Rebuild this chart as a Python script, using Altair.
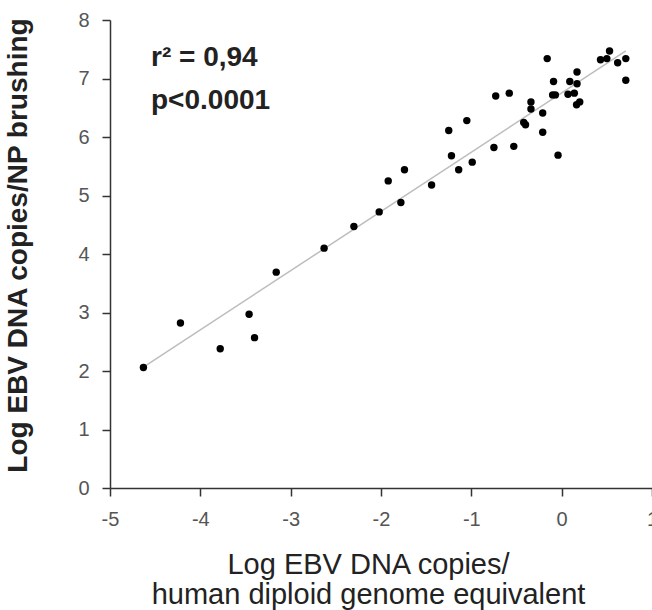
import altair as alt
import pandas as pd

# Log EBV DNA copies / human diploid genome equivalent
x_vals = [-4.63, -4.22, -3.78, -3.46, -3.40, -3.16, -2.63, -2.30, -2.02, -1.92,
          -1.78, -1.74, -1.44, -1.25, -1.22, -1.14, -1.05, -0.99, -0.75, -0.73,
          -0.58, -0.53, -0.42, -0.40, -0.34, -0.34, -0.21, -0.21, -0.16, -0.10,
          -0.07, -0.09, -0.04, 0.07, 0.09, 0.14, 0.17, 0.17, 0.165, 0.20,
          0.43, 0.50, 0.53, 0.62, 0.71, 0.71]
# Log EBV DNA copies / NP brushing
y_vals = [2.06, 2.82, 2.38, 2.97, 2.57, 3.69, 4.10, 4.47, 4.72, 5.25,
          4.88, 5.44, 5.18, 6.11, 5.68, 5.44, 6.28, 5.57, 5.82, 6.70,
          6.75, 5.84, 6.25, 6.21, 6.48, 6.60, 6.41, 6.08, 7.34, 6.72,
          6.72, 6.95, 5.69, 6.73, 6.95, 6.75, 7.11, 6.91, 6.55, 6.60,
          7.32, 7.34, 7.47, 7.27, 7.34, 6.97]

x_ticks = [-5, -4, -3, -2, -1, 0, 1]
y_ticks = [0, 1, 2, 3, 4, 5, 6, 7, 8]
x_title = ["Log EBV DNA copies/", "human diploid genome equivalent"]
y_title = "Log EBV DNA copies/NP brushing"
annot_text = "r\u00b2 = 0,94\np<0.0001"

df = pd.DataFrame({"x": x_vals, "y": y_vals})

FONT = "Liberation Sans"

x_enc = alt.X(
    "x:Q",
    scale=alt.Scale(domain=[-5, 1], nice=False, zero=False),
    axis=alt.Axis(
        values=x_ticks, grid=False, labelExpr="'' + datum.value",
        labelFont=FONT, labelFontSize=20, labelColor="#555555",
        labelPadding=13, labelFlush=False, labelOverlap=False,
        tickSize=8, tickWidth=1.5, tickColor="#333333",
        domainColor="#333333", domainWidth=1.5,
        title=x_title, titleFont=FONT, titleFontSize=29,
        titleFontWeight="normal", titleColor="#222222",
        titleX=258, titleY=85, titleAlign="center",
        titleBaseline="alphabetic", titleLineHeight=30,
    ),
)
y_enc = alt.Y(
    "y:Q",
    scale=alt.Scale(domain=[0, 8], nice=False),
    axis=alt.Axis(
        values=y_ticks, grid=False,
        labelFont=FONT, labelFontSize=20, labelColor="#555555",
        labelPadding=13, labelFlush=False, labelOverlap=False,
        tickSize=8, tickWidth=1.5, tickColor="#333333",
        domainColor="#333333", domainWidth=1.5,
        title=y_title, titleFont=FONT, titleFontSize=28,
        titleFontWeight="bold", titleColor="#222222",
        titleAngle=-90, titleX=-84, titleY=225, titleAlign="center",
        titleBaseline="alphabetic",
    ),
)

base = alt.Chart(df)

line = base.transform_regression("x", "y").mark_line(
    color="#bdbdbd", strokeWidth=1.5
).encode(x=x_enc, y=y_enc)

points = base.mark_circle(size=55, color="black", opacity=1).encode(
    x=x_enc, y=y_enc
)

annot_df = pd.DataFrame({"label": [annot_text]})
annot = alt.Chart(annot_df).mark_text(
    align="left", baseline="alphabetic", font=FONT, fontSize=28,
    fontWeight="bold", color="#222222", lineBreak="\n", lineHeight=43
).encode(
    text="label:N",
    x=alt.value(41),
    y=alt.value(46),
)

chart = alt.layer(line, points, annot).properties(
    width=542, height=468,
    padding={"left": 110, "top": 20, "right": 0, "bottom": 122},
    autosize=alt.AutoSizeParams(type="none"),
).configure_view(stroke=None)

chart.save("out.html", embed_options={"renderer": "svg", "actions": False})
